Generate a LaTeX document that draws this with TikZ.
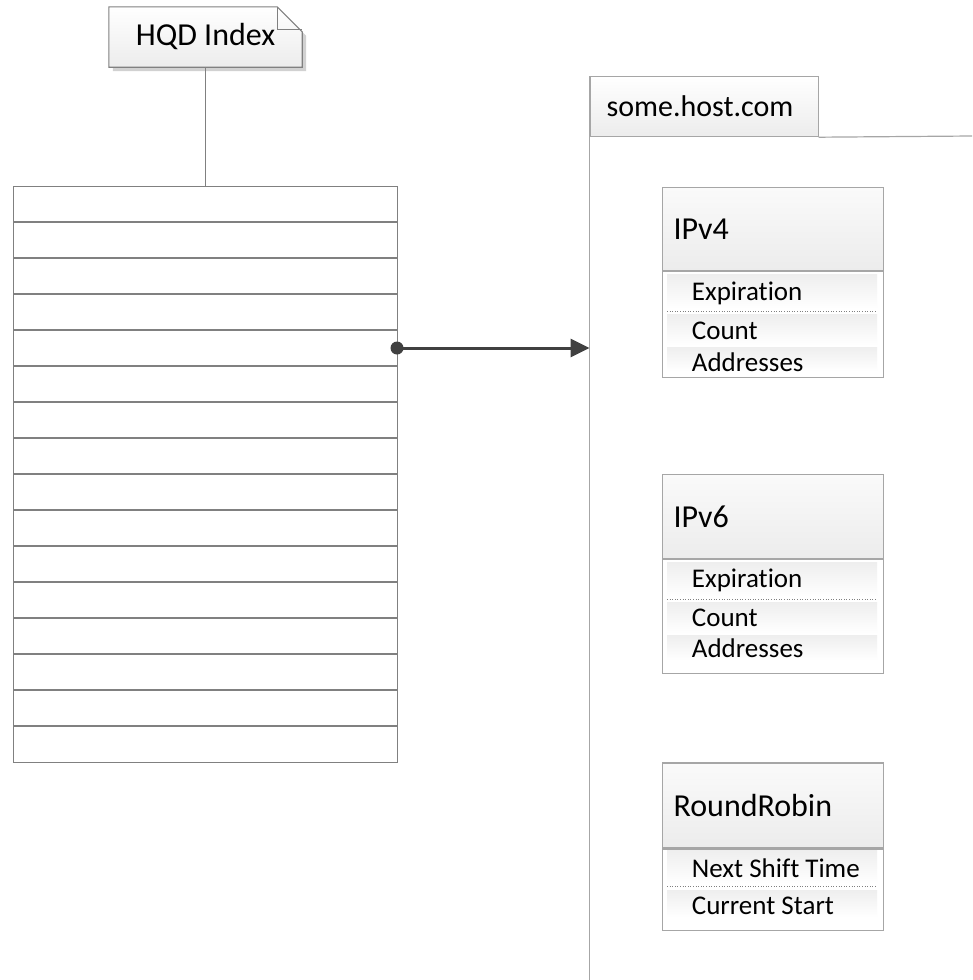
\documentclass[tikz,border=0pt]{standalone}
\usepackage{fontspec}
\setmainfont{Carlito}[Ligatures=NoCommon]
\usetikzlibrary{arrows.meta,calc}

\definecolor{edge}{HTML}{A6A6A6}
\definecolor{rowline}{HTML}{808080}
\definecolor{ink}{HTML}{404040}
\definecolor{hdrtop}{HTML}{FAFAFA}
\definecolor{hdrbot}{HTML}{ECECEC}
\definecolor{bandtop}{HTML}{EEEEEE}

\tikzset{
  notebox/.style={minimum width=193pt, minimum height=60pt, inner sep=0pt,
    font=\fontsize{32}{36}\selectfont},
  pkgtab/.style={anchor=north west, minimum width=228pt, minimum height=60pt,
    inner xsep=16.5pt, inner ysep=0pt, text width=195pt, align=left,
    draw=edge, line width=1.2pt, top color=white, bottom color=hdrbot,
    font=\fontsize{30}{34}\selectfont},
  classhdr/.style={anchor=north west, minimum width=221pt, inner xsep=11.5pt, inner ysep=0pt,
    text width=198pt, align=left, draw=edge, line width=1.2pt,
    top color=hdrtop, bottom color=hdrbot, font=\fontsize{32}{36}\selectfont},
  classbody/.style={anchor=north west, minimum width=221pt, inner sep=0pt,
    draw=edge, line width=1.2pt, fill=white},
  band/.style={top color=bandtop, bottom color=white, draw=none},
  attr/.style={anchor=west, inner sep=0pt, font=\fontsize{27}{30}\selectfont},
  sep/.style={draw=rowline, dotted, line width=0.6pt},
  tableline/.style={draw=rowline, line width=1.1pt},
  conn/.style={draw=ink, line width=3pt, -{Triangle[length=19pt,width=18pt]}},
}

\begin{document}
\begin{tikzpicture}[x=1pt,y=-1pt]
\useasboundingbox (0,0) rectangle (972,980);

% ---- note "HQD Index" with folded corner ----
\node[notebox] (note) at (205.5,37) {};
\fill[black!18] ($(note.north west)+(4,4)$) -- ($(note.north east)+(-21,4)$)
  -- ($(note.north east)+(4,29)$) -- ($(note.south east)+(4,4)$)
  -- ($(note.south west)+(4,4)$) -- cycle;
\draw[draw=rowline, line width=1.1pt, top color=white, bottom color=hdrbot]
  (note.north west) -- ($(note.north east)+(-25,0)$) -- ($(note.north east)+(0,25)$)
  -- (note.south east) -- (note.south west) -- cycle;
\draw[draw=rowline, line width=1pt]
  ($(note.north east)+(-25,0)$) -- ($(note.north east)+(-25,23)$) -- ($(note.north east)+(0,23)$);
\node[notebox] (notetext) at (note.center) {HQD Index};

% ---- index table: 16 rows ----
\node[tableline, anchor=north west, minimum width=384pt, minimum height=576pt, inner sep=0pt]
  (tbl) at (13,186) {};
\foreach \r in {1,...,15}
  \draw[tableline] ($(tbl.north west)+(0,36*\r)$) -- ($(tbl.north east)+(0,36*\r)$);
\draw[draw=rowline, line width=1pt] (note.south) -- (note.south |- tbl.north);

% ---- package some.host.com ----
\node[pkgtab] (pkg) at (589.5,76) {some.host.com};
\draw[draw=edge, line width=1.2pt] (pkg.north west) -- (589.5,980);
\draw[draw=edge, line width=1.2pt] (pkg.south east) -- (972,136);
\coordinate (pkgin) at (589.5,348);

% ---- connector from row 6 to the package ----
\coordinate (rowdot) at (397,348);
\draw[conn] (rowdot) -- (pkgin);
\fill[ink] (rowdot) circle (6.5pt);

% ---- class IPv4 ----
\node[classhdr, minimum height=83.5pt] (ipv4) at (661.5,186.5) {IPv4};
\node[classbody, minimum height=106pt] (ipv4b) at (ipv4.south west) {};
\fill[band] (667,274) rectangle (877,308);
\fill[band] (667,314) rectangle (877,345);
\fill[band] (667,347) rectangle (877,371);
\draw[sep] (667,311.7) -- (877,311.7);
\node[attr] (ipv4e) at (691.7,293) {Expiration};
\node[attr] (ipv4c) at (691.7,331) {Count};
\node[attr] (ipv4a) at (691.7,362) {Addresses};

% ---- class IPv6 ----
\node[classhdr, minimum height=84pt] (ipv6) at (661.5,474) {IPv6};
\node[classbody, minimum height=114pt] (ipv6b) at (ipv6.south west) {};
\fill[band] (667,562) rectangle (877,596);
\fill[band] (667,602) rectangle (877,633);
\fill[band] (667,635) rectangle (877,660);
\draw[sep] (667,599.3) -- (877,599.3);
\node[attr] (ipv6e) at (691.7,580) {Expiration};
\node[attr] (ipv6c) at (691.7,618) {Count};
\node[attr] (ipv6a) at (691.7,648) {Addresses};

% ---- class RoundRobin ----
\node[classhdr, minimum height=85pt] (rr) at (661.5,762.3) {RoundRobin};
\node[classbody, minimum height=81pt] (rrb) at (rr.south west) {};
\fill[band] (667,850) rectangle (877,883);
\fill[band] (667,890) rectangle (877,917);
\draw[sep] (667,886.7) -- (877,886.7);
\node[attr] (rrn) at (691.7,868.3) {Next Shift Time};
\node[attr] (rrc) at (691.7,906) {Current Start};
\end{tikzpicture}
\end{document}
